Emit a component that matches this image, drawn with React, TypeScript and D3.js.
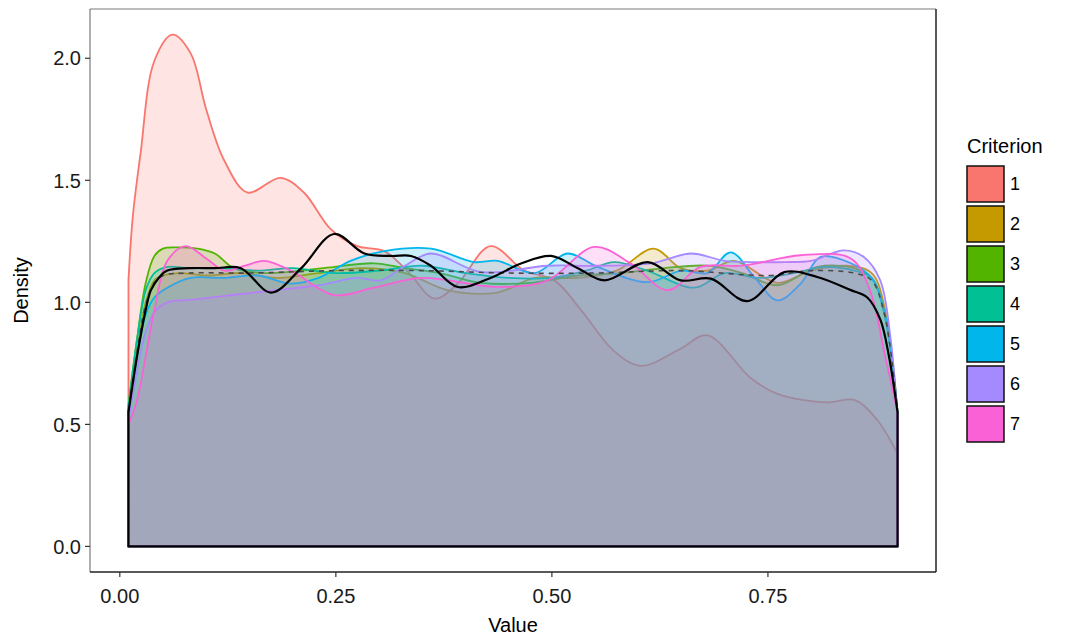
import React from "react";
import * as d3 from "d3";

// ---- data ----
const criteria = ["1", "2", "3", "4", "5", "6", "7"];
const colors = ["#F8766D", "#C49A00", "#53B400", "#00C094", "#00B6EB", "#A58AFF", "#FB61D7"];

const c1X = [0.01, 0.015, 0.024, 0.04, 0.061, 0.082, 0.1, 0.121, 0.148, 0.186, 0.213, 0.244, 0.275, 0.306, 0.335, 0.364, 0.391, 0.429, 0.468, 0.503, 0.534, 0.572, 0.603, 0.649, 0.68, 0.73, 0.761, 0.819, 0.85, 0.877, 0.9];
const c1Y = [1.09, 1.35, 1.61, 1.99, 2.097, 2.02, 1.79, 1.58, 1.45, 1.51, 1.45, 1.3, 1.23, 1.21, 1.12, 1.015, 1.077, 1.23, 1.13, 1.09, 0.967, 0.8, 0.74, 0.81, 0.865, 0.69, 0.625, 0.59, 0.6, 0.516, 0.38];

const c2X = [0.01, 0.02, 0.03, 0.04, 0.05, 0.07, 0.1, 0.14, 0.18, 0.23, 0.28, 0.33, 0.379, 0.437, 0.48, 0.53, 0.575, 0.618, 0.649, 0.68, 0.711, 0.761, 0.8, 0.84, 0.87, 0.885, 0.9];
const c2Y = [0.56, 0.8, 1.0, 1.09, 1.11, 1.12, 1.11, 1.12, 1.1, 1.12, 1.14, 1.12, 1.05, 1.04, 1.1, 1.1, 1.13, 1.22, 1.14, 1.13, 1.17, 1.08, 1.13, 1.15, 1.12, 0.98, 0.55];

const c3X = [0.01, 0.02, 0.03, 0.04, 0.05, 0.065, 0.09, 0.11, 0.132, 0.17, 0.236, 0.294, 0.33, 0.37, 0.418, 0.476, 0.53, 0.58, 0.63, 0.68, 0.72, 0.761, 0.807, 0.85, 0.87, 0.885, 0.9];
const c3Y = [0.58, 0.85, 1.08, 1.19, 1.22, 1.225, 1.22, 1.2, 1.14, 1.12, 1.14, 1.16, 1.14, 1.12, 1.08, 1.08, 1.11, 1.12, 1.14, 1.15, 1.12, 1.07, 1.145, 1.14, 1.1, 0.95, 0.55];

const c4X = [0.01, 0.02, 0.03, 0.04, 0.055, 0.08, 0.12, 0.16, 0.2, 0.25, 0.3, 0.35, 0.4, 0.45, 0.5, 0.54, 0.572, 0.61, 0.665, 0.7, 0.74, 0.78, 0.815, 0.85, 0.87, 0.885, 0.9];
const c4Y = [0.57, 0.85, 1.05, 1.12, 1.145, 1.14, 1.14, 1.13, 1.14, 1.12, 1.13, 1.15, 1.12, 1.1, 1.1, 1.13, 1.165, 1.13, 1.06, 1.12, 1.1, 1.12, 1.145, 1.13, 1.1, 0.96, 0.55];

const c5X = [0.01, 0.02, 0.03, 0.04, 0.055, 0.082, 0.12, 0.16, 0.198, 0.23, 0.267, 0.306, 0.36, 0.41, 0.437, 0.48, 0.518, 0.553, 0.611, 0.65, 0.68, 0.707, 0.735, 0.761, 0.788, 0.811, 0.846, 0.87, 0.885, 0.9];
const c5Y = [0.55, 0.78, 0.95, 1.02, 1.06, 1.1, 1.1, 1.11, 1.077, 1.1, 1.17, 1.21, 1.22, 1.165, 1.17, 1.12, 1.2, 1.145, 1.083, 1.13, 1.12, 1.205, 1.1, 1.008, 1.077, 1.186, 1.16, 1.1, 0.95, 0.55];

const c6X = [0.01, 0.02, 0.03, 0.04, 0.055, 0.082, 0.13, 0.18, 0.23, 0.275, 0.302, 0.33, 0.36, 0.418, 0.495, 0.55, 0.615, 0.661, 0.7, 0.73, 0.77, 0.8, 0.838, 0.861, 0.88, 0.892, 0.9];
const c6Y = [0.52, 0.72, 0.88, 0.96, 1.0, 1.01, 1.03, 1.05, 1.07, 1.1, 1.09, 1.15, 1.2, 1.124, 1.15, 1.15, 1.16, 1.2, 1.17, 1.165, 1.165, 1.17, 1.213, 1.186, 1.09, 0.85, 0.52];

const c7X = [0.01, 0.02, 0.03, 0.04, 0.055, 0.076, 0.1, 0.121, 0.145, 0.167, 0.198, 0.248, 0.294, 0.35, 0.437, 0.495, 0.549, 0.591, 0.634, 0.672, 0.72, 0.788, 0.846, 0.868, 0.885, 0.9];
const c7Y = [0.5, 0.6, 0.78, 0.97, 1.17, 1.23, 1.18, 1.13, 1.15, 1.17, 1.13, 1.03, 1.06, 1.1, 1.063, 1.09, 1.227, 1.16, 1.05, 1.145, 1.15, 1.193, 1.18, 1.05, 0.79, 0.55];

const overallX = [0.01, 0.02, 0.03, 0.036, 0.045, 0.055, 0.08, 0.11, 0.14, 0.175, 0.21, 0.248, 0.283, 0.314, 0.337, 0.36, 0.391, 0.429, 0.465, 0.499, 0.53, 0.561, 0.611, 0.649, 0.684, 0.726, 0.769, 0.807, 0.846, 0.865, 0.88, 0.89, 0.9];
const overallY = [0.55, 0.78, 0.97, 1.05, 1.1, 1.13, 1.14, 1.14, 1.14, 1.04, 1.14, 1.28, 1.2, 1.19, 1.19, 1.15, 1.063, 1.1, 1.16, 1.19, 1.14, 1.09, 1.165, 1.09, 1.097, 1.005, 1.124, 1.104, 1.05, 1.02, 0.93, 0.78, 0.55];

const meanX = [0.01, 0.02, 0.03, 0.04, 0.05, 0.08, 0.15, 0.25, 0.35, 0.45, 0.55, 0.65, 0.75, 0.8, 0.85, 0.87, 0.885, 0.9];
const meanY = [0.55, 0.8, 0.99, 1.08, 1.11, 1.12, 1.12, 1.13, 1.13, 1.12, 1.12, 1.13, 1.11, 1.13, 1.12, 1.09, 0.95, 0.55];

const xTicks = [0, 0.25, 0.5, 0.75];
const yTicks = [0, 0.5, 1, 1.5, 2];

const seriesX = [c1X, c2X, c3X, c4X, c5X, c6X, c7X];
const seriesY = [c1Y, c2Y, c3Y, c4Y, c5Y, c6Y, c7Y];

// ---- layout ----
const W = 1067;
const H = 636;
const panel = { left: 90, right: 936, top: 9, bottom: 572 };
const FONT = "'Liberation Sans', Arial, Helvetica, sans-serif";

function toPts(xs: number[], ys: number[]): [number, number][] {
  return xs.map((x, i) => [x, ys[i]]);
}

export default function App() {
  const allX = seriesX.flat();
  const xMin = d3.min(allX) as number;
  const xMax = d3.max(allX) as number;
  const yMax = d3.max(seriesY.flat()) as number;
  const xPad = (xMax - xMin) * 0.05;
  const yPad = yMax * 0.05;

  const x = d3.scaleLinear().domain([xMin - xPad, xMax + xPad]).range([panel.left, panel.right]);
  const y = d3.scaleLinear().domain([-yPad, yMax + yPad]).range([panel.bottom, panel.top]);

  const curve = d3.curveCatmullRom.alpha(0.5);
  const area = d3
    .area<[number, number]>()
    .x((d) => x(d[0]))
    .y0(y(0))
    .y1((d) => y(d[1]))
    .curve(curve);
  const line = d3
    .line<[number, number]>()
    .x((d) => x(d[0]))
    .y((d) => y(d[1]))
    .curve(curve);

  const outline = (pts: [number, number][]) => {
    const first = pts[0];
    const last = pts[pts.length - 1];
    return (
      `M${x(first[0])},${y(0)}L` +
      (line(pts) as string).slice(1) +
      `L${x(last[0])},${y(0)}Z`
    );
  };

  const overallPts = toPts(overallX, overallY);
  const meanPts = toPts(meanX, meanY);

  const legendX = 967;
  const keyTop = 166;
  const keyStep = 40;

  return (
    <svg
      width={W}
      height={H}
      style={{ position: "fixed", left: 0, top: 0, background: "#fff" }}
      fontFamily={FONT}
    >
      <rect x={0} y={0} width={W} height={H} fill="#fff" />
      <defs>
        <clipPath id="panelClip">
          <rect x={panel.left} y={panel.top} width={panel.right - panel.left} height={panel.bottom - panel.top} />
        </clipPath>
      </defs>

      <g clipPath="url(#panelClip)">
        {criteria.map((c, i) => {
          const pts = toPts(seriesX[i], seriesY[i]);
          return (
            <g key={c}>
              <path d={area(pts) as string} fill={colors[i]} fillOpacity={0.2} stroke="none" />
              <path d={outline(pts)} fill="none" stroke={colors[i]} strokeWidth={1.8} strokeLinejoin="round" />
            </g>
          );
        })}
        <path d={line(meanPts) as string} fill="none" stroke="#4a4a4a" strokeWidth={1.6} strokeDasharray="5,5" />
        <path d={outline(overallPts)} fill="none" stroke="#000" strokeWidth={2.2} strokeLinejoin="round" />
      </g>

      {/* panel border */}
      <line x1={panel.left} x2={panel.left} y1={panel.top} y2={panel.bottom} stroke="#7a7a7a" strokeWidth={1.2} />
      <line x1={panel.left} x2={panel.right} y1={panel.top} y2={panel.top} stroke="#7a7a7a" strokeWidth={1.2} />
      <line x1={panel.right} x2={panel.right} y1={panel.top} y2={panel.bottom} stroke="#222" strokeWidth={1.5} />
      <line x1={panel.left} x2={panel.right} y1={panel.bottom} y2={panel.bottom} stroke="#222" strokeWidth={1.5} />

      {/* y axis */}
      {yTicks.map((t) => (
        <g key={t}>
          <line x1={panel.left - 5} x2={panel.left} y1={y(t)} y2={y(t)} stroke="#333" strokeWidth={1.2} />
          <text x={panel.left - 9} y={y(t)} dy="0.36em" textAnchor="end" fontSize={20} fill="#1a1a1a">
            {d3.format(".1f")(t)}
          </text>
        </g>
      ))}
      {/* x axis */}
      {xTicks.map((t) => (
        <g key={t}>
          <line x1={x(t)} x2={x(t)} y1={panel.bottom} y2={panel.bottom + 5} stroke="#333" strokeWidth={1.2} />
          <text x={x(t)} y={panel.bottom + 31} textAnchor="middle" fontSize={20} fill="#1a1a1a">
            {d3.format(".2f")(t)}
          </text>
        </g>
      ))}

      <text x={(panel.left + panel.right) / 2} y={632} textAnchor="middle" fontSize={20} fill="#000">
        Value
      </text>
      <text
        transform={`translate(28,${(panel.top + panel.bottom) / 2}) rotate(-90)`}
        textAnchor="middle"
        fontSize={20}
        fill="#000"
      >
        Density
      </text>

      {/* legend */}
      <text x={legendX} y={153} fontSize={20} fill="#000">
        Criterion
      </text>
      {criteria.map((c, i) => (
        <g key={c}>
          <rect
            x={legendX}
            y={keyTop + i * keyStep}
            width={37}
            height={36}
            fill={colors[i]}
            stroke="#111"
            strokeWidth={1.5}
          />
          <text x={legendX + 43} y={keyTop + i * keyStep + 18} dy="0.36em" fontSize={18} fill="#000">
            {c}
          </text>
        </g>
      ))}
    </svg>
  );
}
